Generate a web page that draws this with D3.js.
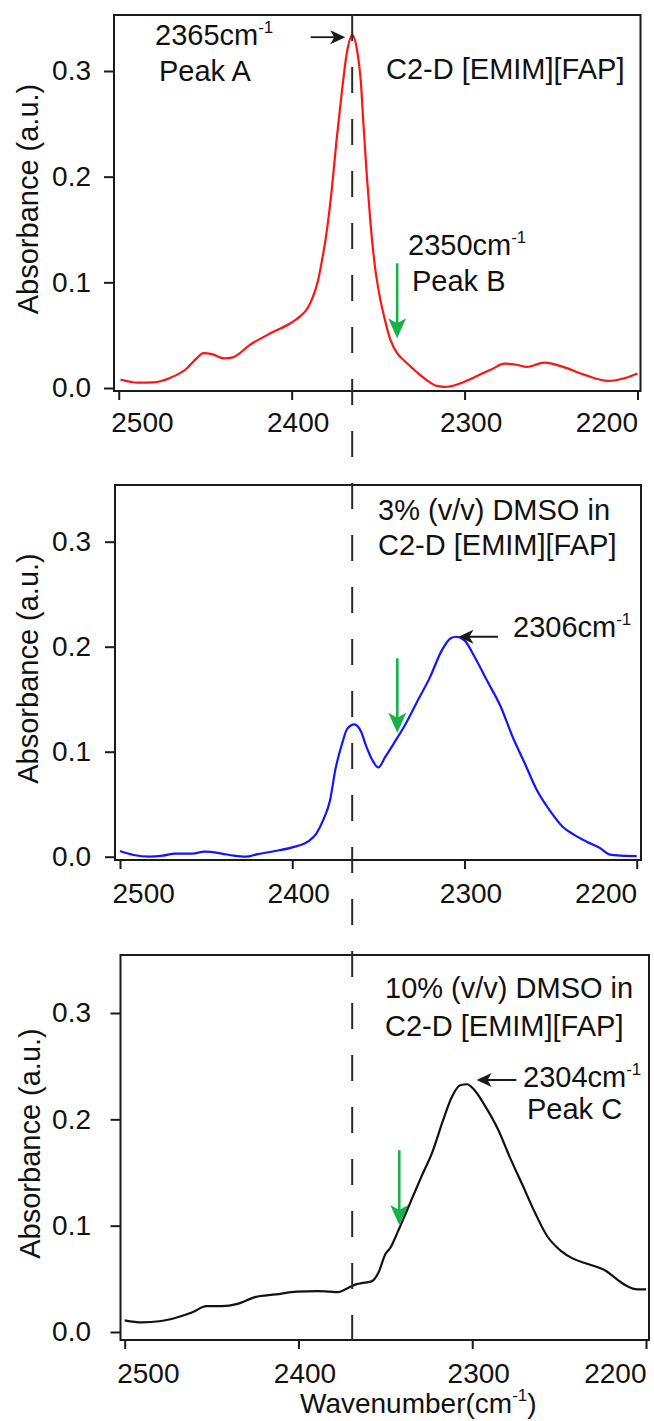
<!DOCTYPE html>
<html>
<head>
<meta charset="utf-8">
<script src="https://cdn.jsdelivr.net/npm/d3@7"></script>
<style>
  body { margin: 0; background: #fff; }
  svg { display: block; font-family: "Liberation Sans", Arial, Helvetica, sans-serif; }
</style>
</head>
<body>
<svg id="chart" width="654" height="1421"></svg>
<script>

// axis ticks
var xTicks = [2500, 2400, 2300, 2200];
var yTicks = [0, 0.1, 0.2, 0.3];

// pure C2-D [EMIM][FAP] (red)
var redWn  = [2499, 2489, 2480, 2470, 2461, 2455, 2451, 2446, 2439, 2434, 2424, 2412, 2400, 2395, 2391, 2388, 2385, 2382, 2380, 2377, 2374, 2371, 2368, 2365, 2362, 2360, 2358.5, 2356.5, 2354.5, 2352, 2349, 2346, 2343, 2339, 2335, 2331, 2327, 2322, 2316, 2311, 2304, 2294, 2284, 2277, 2270, 2264, 2254, 2243, 2231, 2217, 2207, 2200];
var redAbs = [0.008, 0.005, 0.0054, 0.0098, 0.018, 0.028, 0.033, 0.032, 0.028, 0.029, 0.041, 0.052, 0.062, 0.068, 0.075, 0.085, 0.10, 0.125, 0.145, 0.185, 0.235, 0.28, 0.318, 0.334, 0.318, 0.29, 0.25, 0.20, 0.158, 0.117, 0.086, 0.064, 0.046, 0.033, 0.026, 0.02, 0.014, 0.0076, 0.002, 0.001, 0.0035, 0.0105, 0.018, 0.023, 0.022, 0.020, 0.024, 0.020, 0.0127, 0.0067, 0.0095, 0.0137];

// 3% DMSO (blue)
var blueWn  = [2500, 2492, 2483, 2475, 2468, 2458, 2451, 2441, 2434, 2427, 2420, 2410, 2400, 2391, 2386, 2382, 2378, 2375, 2371, 2368, 2364, 2360, 2357, 2353, 2350, 2346, 2341, 2335, 2328, 2320, 2313, 2308, 2305, 2300, 2294, 2287, 2279, 2272, 2265, 2258, 2250, 2243, 2236, 2229, 2221, 2216, 2209, 2200];
var blueAbs = [0.0054, 0.0016, 0, 0.001, 0.003, 0.003, 0.0048, 0.003, 0.001, 0, 0.0025, 0.0054, 0.0089, 0.0143, 0.022, 0.035, 0.054, 0.0825, 0.108, 0.122, 0.126, 0.119, 0.105, 0.0905, 0.085, 0.095, 0.108, 0.124, 0.146, 0.171, 0.197, 0.208, 0.2095, 0.206, 0.19, 0.168, 0.143, 0.114, 0.089, 0.0635, 0.043, 0.0286, 0.0206, 0.0143, 0.0079, 0.0022, 0.001, 0.0006];

// 10% DMSO (black)
var blackWn  = [2500, 2490, 2480, 2471, 2461, 2453, 2444, 2435, 2425, 2413, 2401, 2389, 2382, 2377, 2372, 2367, 2362, 2358, 2354, 2350, 2347, 2343, 2338, 2334, 2329, 2323, 2317, 2312, 2307, 2303, 2299, 2293, 2285, 2278, 2271, 2264, 2257, 2249, 2242, 2233, 2223, 2216, 2211, 2205, 2200];
var blackAbs = [0.011, 0.0091, 0.0101, 0.0132, 0.0186, 0.0243, 0.0243, 0.0265, 0.0328, 0.0353, 0.0379, 0.0385, 0.0379, 0.0375, 0.041, 0.0448, 0.0464, 0.0476, 0.0558, 0.0732, 0.0795, 0.0937, 0.1126, 0.128, 0.147, 0.169, 0.198, 0.22, 0.232, 0.233, 0.228, 0.2136, 0.19, 0.163, 0.138, 0.1126, 0.0905, 0.0763, 0.069, 0.0637, 0.0574, 0.0486, 0.0432, 0.04, 0.04];

var dashWn = 2365;

var svg = d3.select("#chart");

var panels = [
  {
    wn: redWn, abs: redAbs, color: "#ff1414",
    frame: {left: 114, right: 640.5, top: 15, bottom: 391},
    xr: [118.75, 637.5], yr: [388, 71], labelGap: 41, titleX: 38,
    green: {wn: 2339, from: 0.118, to: 0.047},
    black: {from: 2389, to: 2369, v: 0.332},
    texts: [
      {x: 155, y: 45, t: "2365cm", sup: "-1"},
      {x: 159, y: 81, t: "Peak A"},
      {x: 386, y: 79, t: "C2-D [EMIM][FAP]"},
      {x: 408, y: 255, t: "2350cm", sup: "-1"},
      {x: 412, y: 291, t: "Peak B"}
    ]
  },
  {
    wn: blueWn, abs: blueAbs, color: "#1414ff",
    frame: {left: 115, right: 641, top: 485, bottom: 860},
    xr: [120, 636.7], yr: [856.7, 541.7], labelGap: 43, titleX: 38,
    green: {wn: 2339, from: 0.189, to: 0.118},
    black: {from: 2280.5, to: 2303.5, v: 0.2095},
    texts: [
      {x: 378, y: 520, t: "3% (v/v) DMSO in"},
      {x: 378, y: 555, t: "C2-D [EMIM][FAP]"},
      {x: 513, y: 637, t: "2306cm", sup: "-1"}
    ]
  },
  {
    wn: blackWn, abs: blackAbs, color: "#111",
    frame: {left: 120.5, right: 649, top: 955, bottom: 1340},
    xr: [124.7, 646], yr: [1332, 1013], labelGap: 43, titleX: 40,
    green: {wn: 2342, from: 0.171, to: 0.1007},
    black: {from: 2274.6, to: 2297.5, v: 0.237},
    texts: [
      {x: 385, y: 998, t: "10% (v/v) DMSO in"},
      {x: 385, y: 1036, t: "C2-D [EMIM][FAP]"},
      {x: 523, y: 1087, t: "2304cm", sup: "-1"},
      {x: 527, y: 1119, t: "Peak C"}
    ]
  }
];

function addText(g, x, y, t, sup, tail, size) {
  var txt = g.append("text")
    .attr("x", x).attr("y", y)
    .attr("font-size", size || 29)
    .attr("fill", "#111");
  txt.append("tspan").text(t);
  if (sup) {
    txt.append("tspan").attr("dy", -12).attr("font-size", 17).text(sup);
    if (tail) {
      txt.append("tspan").attr("dy", 12).text(tail);
    }
  }
  return txt;
}

var scales = [];

panels.forEach(function (p) {
  var g = svg.append("g");
  var f = p.frame;

  var x = d3.scaleLinear().domain([2500, 2200]).range(p.xr);
  var y = d3.scaleLinear().domain([0, 0.3]).range(p.yr);
  scales.push({x: x, y: y});

  //frame
  g.append("rect")
    .attr("x", f.left).attr("y", f.top)
    .attr("width", f.right - f.left).attr("height", f.bottom - f.top)
    .attr("fill", "none").attr("stroke", "#1a1a1a").attr("stroke-width", 2);

  //y axis
  var yAxis = g.append("g")
    .attr("transform", "translate(" + f.left + ",0)")
    .call(d3.axisLeft(y).tickValues(yTicks).tickFormat(d3.format(".1f"))
      .tickSize(10).tickPadding(f.left - 91 - 10));
  yAxis.select(".domain").remove();
  yAxis.selectAll("line").attr("stroke", "#1a1a1a").attr("stroke-width", 2);
  yAxis.selectAll("text").attr("font-size", 28).attr("fill", "#111")
    .attr("font-family", null);

  //x axis
  var xAxis = g.append("g")
    .attr("transform", "translate(0," + f.bottom + ")")
    .call(d3.axisBottom(x).tickValues(xTicks).tickFormat(d3.format("d"))
      .tickSize(9).tickPadding(p.labelGap - 9 - 20));
  xAxis.select(".domain").remove();
  xAxis.selectAll("line").attr("stroke", "#1a1a1a").attr("stroke-width", 2);
  xAxis.selectAll("text").attr("font-size", 28).attr("fill", "#111")
    .attr("font-family", null)
    .attr("text-anchor", function (d, i) {
      if (i === 0) return "start";
      if (i === xTicks.length - 1) return "end";
      return "middle";
    })
    .attr("dx", function (d, i) {
      if (i === 0) return -8;
      if (i === xTicks.length - 1) return 0;
      return 6;
    });

  //spectrum
  var line = d3.line()
    .x(function (d) { return x(d[0]); })
    .y(function (d) { return y(d[1]); })
    .curve(d3.curveMonotoneX);

  g.append("path")
    .datum(d3.zip(p.wn, p.abs))
    .attr("d", line)
    .attr("fill", "none")
    .attr("stroke", p.color)
    .attr("stroke-width", 2.2)
    .attr("stroke-linejoin", "round");

  //y title
  g.append("text")
    .attr("transform", "translate(" + p.titleX + "," + ((f.top + f.bottom) / 2 - 4) + ") rotate(-90)")
    .attr("text-anchor", "middle")
    .attr("font-size", 29)
    .attr("fill", "#111")
    .text("Absorbance (a.u.)");

  //annotation texts
  p.texts.forEach(function (t) {
    addText(g, t.x, t.y, t.t, t.sup);
  });

  //green arrow
  var gx = x(p.green.wn), gy0 = y(p.green.from), gy1 = y(p.green.to);
  g.append("line")
    .attr("x1", gx).attr("x2", gx)
    .attr("y1", gy0).attr("y2", gy1 - 12)
    .attr("stroke", "#17b04a").attr("stroke-width", 2.6);
  g.append("path")
    .attr("d", "M" + gx + "," + gy1 +
      "L" + (gx - 9) + "," + (gy1 - 20) +
      "L" + gx + "," + (gy1 - 15) +
      "L" + (gx + 9) + "," + (gy1 - 20) + "Z")
    .attr("fill", "#17b04a");

  //black arrow
  var bx0 = x(p.black.from), bx1 = x(p.black.to), by = y(p.black.v);
  var dir = bx1 > bx0 ? 1 : -1;
  g.append("line")
    .attr("x1", bx0).attr("x2", bx1 - dir * 8)
    .attr("y1", by).attr("y2", by)
    .attr("stroke", "#1a1a1a").attr("stroke-width", 1.8);
  g.append("path")
    .attr("d", "M" + bx1 + "," + by +
      "L" + (bx1 - dir * 15) + "," + (by - 7) +
      "L" + (bx1 - dir * 11) + "," + by +
      "L" + (bx1 - dir * 15) + "," + (by + 7) + "Z")
    .attr("fill", "#1a1a1a");
});

//vertical dashed reference line through all panels
var dashX = scales[0].x(dashWn);
svg.append("line")
  .attr("x1", dashX).attr("x2", dashX)
  .attr("y1", panels[0].frame.top).attr("y2", panels[2].frame.bottom + 7)
  .attr("stroke", "#2a2a2a")
  .attr("stroke-width", 2)
  .attr("stroke-dasharray", "26,26");

//x title
addText(svg, 300, 1413, "Wavenumber(cm", "-1", ")", 28);

</script>
</body>
</html>
